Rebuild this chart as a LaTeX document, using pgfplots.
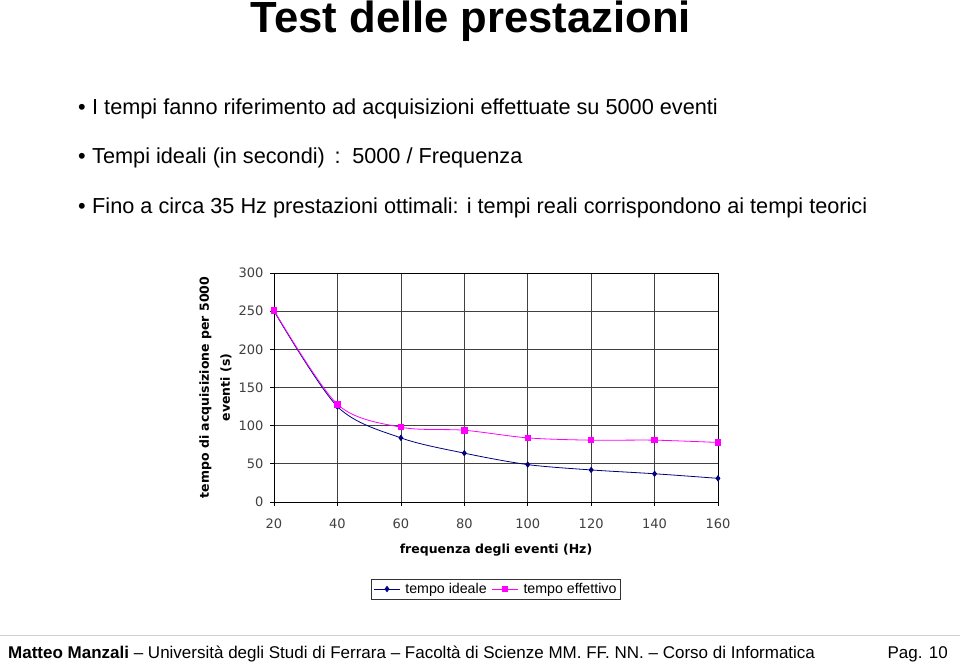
\documentclass[border=0pt]{standalone}
\usepackage{fontspec}
\setmainfont{Liberation Sans}
\newfontfamily\chartfont{DejaVu Sans}
\usepackage{pgfplots}
\pgfplotsset{compat=1.18}
\definecolor{navy}{HTML}{000080}
\definecolor{mag}{HTML}{FF00FF}
\begin{document}
\begin{tikzpicture}[x=1pt,y=1pt]
\path[fill=white,use as bounding box] (0,0) rectangle (960,664);
% title
\node[anchor=base,font=\fontsize{43.6}{48}\selectfont\bfseries] at (471,631) {Test delle prestazioni};
% bullets
\foreach \yy/\txt in {549/{I tempi fanno riferimento ad acquisizioni effettuate su 5000 eventi},
  500/{Tempi ideali (in secondi)\, : \,5000 / Frequenza},
  450/{Fino a circa 35 Hz prestazioni ottimali: i tempi reali corrispondono ai tempi teorici}}{
  \node[anchor=base west,inner sep=0pt,font=\fontsize{21.7}{24}\selectfont] at (92,\yy) {\txt};
  \node[anchor=base,inner sep=0pt,font=\fontsize{21.7}{24}\selectfont] at (82,\yy) {\textbullet};
}
% footer
\draw[gray!35,line width=1pt] (0,29) -- (960,29);
\node[anchor=base west,inner sep=0pt,font=\fontsize{17}{20}\selectfont] at (8,6) {\textbf{Matteo Manzali} -- Università degli Studi di Ferrara -- Facoltà di Scienze MM. FF. NN. -- Corso di Informatica};
\node[anchor=base east,inner sep=0pt,font=\fontsize{17}{20}\selectfont] at (948,6) {Pag. 10};
\begin{axis}[
  at={(274pt,162pt)}, anchor=south west,
  scale only axis, width=444pt, height=229pt,
  xmin=20, xmax=160, ymin=0, ymax=300,
  xtick={20,40,...,160}, ytick={0,50,...,300},
  grid=major,
  major grid style={black!75,line width=0.7pt},
  axis line style={black,line width=0.9pt},
  tick style={black,line width=0.7pt},
  tick align=outside, major tick length=4pt,
  xtick pos=bottom, ytick pos=left,
  ticklabel style={font=\chartfont\fontsize{13}{15}\selectfont, text=black!75},
  xticklabel style={yshift=-9pt},
  yticklabel style={xshift=-3pt},
  /pgf/number format/assume math mode=true,
  xlabel={frequenza degli eventi (Hz)},
  ylabel={tempo di acquisizione per 5000\\eventi (s)},
  xlabel style={font=\chartfont\bfseries\fontsize{12.5}{14}\selectfont, at={(axis description cs:0.5,-0.21)}, anchor=center},
  ylabel style={font=\chartfont\bfseries\fontsize{12.5}{21}\selectfont, align=center, at={(axis description cs:-0.132,0.5)}, anchor=center},
  legend columns=2,
  legend style={at={(axis description cs:0.5,-0.38)}, anchor=center, draw=black!80, line width=0.7pt,
    font=\fontsize{14.2}{16}\selectfont, inner xsep=2pt, inner ysep=2pt,
    /tikz/every even column/.append style={column sep=3pt},
    /tikz/every odd column/.append style={column sep=3pt}},
  legend image code/.code={\draw[#1, mark repeat=2, mark phase=2] plot coordinates {(0pt,0pt) (13pt,0pt) (26pt,0pt)};},
]
\addplot[navy, line width=0.8pt, smooth, tension=0.5, mark=diamond*, mark size=2.6pt, mark options={fill=navy,draw=navy}]
 coordinates {(20,250) (40,125) (60,84) (80,64) (100,49) (120,42) (140,37) (160,31)};
\addlegendentry{tempo ideale}
\addplot[mag, line width=0.8pt, smooth, tension=0.5, mark=square*, mark size=2.7pt, mark options={fill=mag,draw=mag}]
 coordinates {(20,251) (40,128) (60,98) (80,94) (100,84) (120,81) (140,81) (160,78)};
\addlegendentry{tempo effettivo}
\end{axis}
\end{tikzpicture}
\end{document}
